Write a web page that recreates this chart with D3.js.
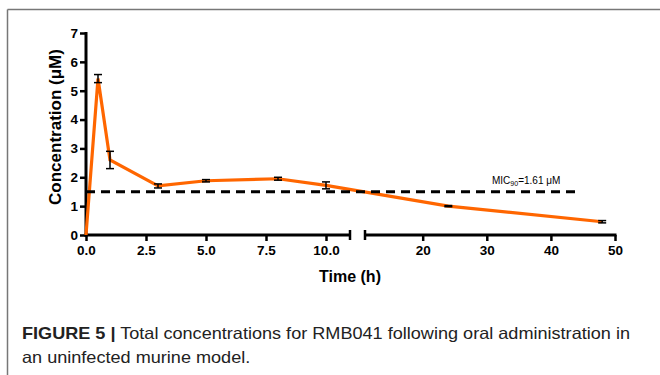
<!DOCTYPE html>
<html><head><meta charset="utf-8">
<script src="https://cdn.jsdelivr.net/npm/d3@7"></script>
<style>
body{margin:0;background:#fff;}
svg{display:block;}
text{font-family:"Liberation Sans",Arial,sans-serif;}
</style></head>
<body>
<script>
// ---- data ----
const times = [0, 0.5, 1, 3, 5, 8, 10, 24, 48];
const conc  = [0, 5.42, 2.6, 1.7, 1.88, 1.95, 1.72, 1.0, 0.46];
const errs  = [0, 0.14, 0.3, 0.07, 0.04, 0.05, 0.12, 0.02, 0.04];
const yTicks = [0,1,2,3,4,5,6,7];
const xTicksA = [0, 2.5, 5, 7.5, 10];
const xTicksB = [20, 30, 40, 50];
const micValue = 1.5;
const micLabel = "1.61 μM";
const yLabel = "Concentration (μM)";
const xLabel = "Time (h)";
const captionBold = "FIGURE 5 |";
const captionLine1 = "Total concentrations for RMB041 following oral administration in";
const captionLine2 = "an uninfected murine model.";

const W = 660, H = 375;
const svg = d3.select("body").append("svg").attr("width", W).attr("height", H);

// frame
svg.append("line").attr("x1",7.5).attr("x2",W).attr("y1",9.5).attr("y2",9.5).attr("stroke","#777").attr("stroke-width",1.5);
svg.append("line").attr("x1",7.5).attr("x2",7.5).attr("y1",9.5).attr("y2",H).attr("stroke","#777").attr("stroke-width",1.5);

const y = d3.scaleLinear().domain([0,7]).range([235,33]);
const xA = d3.scaleLinear().domain([0,11]).range([86,350]);
const xB = d3.scaleLinear().domain([11,50]).range([365,615]);
const xPos = t => t <= 11 ? xA(t) : xB(t);

const axisStyle = g => {
  g.selectAll("path.domain").attr("stroke","#000").attr("stroke-width",3);
  g.selectAll(".tick line").attr("stroke","#000").attr("stroke-width",2.5);
  g.selectAll(".tick text").attr("fill","#000").style("font-family","'Liberation Sans',Arial,sans-serif")
   .style("font-weight","bold").style("font-size","13.5px");
};

// y axis
const gy = svg.append("g").attr("transform","translate(86,0)")
  .call(d3.axisLeft(y).tickValues(yTicks).tickFormat(d3.format("d")).tickSize(6).tickSizeOuter(0).tickPadding(2));
axisStyle(gy);
gy.select("path.domain").attr("d","M0,"+(y(7)-1)+"V"+(y(0)+1.5));

// x axis segment A
const gxA = svg.append("g").attr("transform","translate(0,235)")
  .call(d3.axisBottom(xA).tickValues(xTicksA).tickFormat(d3.format(".1f")).tickSize(6).tickSizeOuter(0).tickPadding(4));
axisStyle(gxA);
gxA.select("path.domain").attr("d","M"+(xA(0)-1.5)+",0H"+xA(11));
gxA.append("line").attr("x1",xA(11)).attr("x2",xA(11)).attr("y1",-5).attr("y2",5).attr("stroke","#000").attr("stroke-width",2.5);

// x axis segment B
const gxB = svg.append("g").attr("transform","translate(0,235)")
  .call(d3.axisBottom(xB).tickValues(xTicksB).tickFormat(d3.format("d")).tickSize(6).tickSizeOuter(0).tickPadding(4));
axisStyle(gxB);
gxB.select("path.domain").attr("d","M"+xB(11)+",0H"+(xB(50)+1.5));
gxB.append("line").attr("x1",xB(11)).attr("x2",xB(11)).attr("y1",-5).attr("y2",5).attr("stroke","#000").attr("stroke-width",2.5);

// axis labels
svg.append("text").attr("transform","translate(61,127) rotate(-90)").attr("text-anchor","middle")
  .attr("font-weight","bold").attr("font-size","17px").attr("fill","#000").text(yLabel);
svg.append("text").attr("x",350).attr("y",282).attr("text-anchor","middle")
  .attr("font-weight","bold").attr("font-size","16px").attr("fill","#000").text(xLabel);

const pts = times.map((t,i)=>({t, v:conc[i], e:errs[i]}));

// data line
svg.append("path").datum(pts)
  .attr("d", d3.line().x(d=>xPos(d.t)).y(d=>y(d.v)))
  .attr("fill","none").attr("stroke","#FF6600").attr("stroke-width",3.2)
  .attr("stroke-linejoin","miter").attr("stroke-miterlimit",6);

// error bars
const eb = svg.append("g").attr("stroke","#000").attr("stroke-width",1.5);
pts.filter(d=>d.e>0).forEach(d=>{
  const cx = xPos(d.t);
  eb.append("line").attr("x1",cx).attr("x2",cx).attr("y1",y(d.v+d.e)).attr("y2",y(d.v-d.e));
  eb.append("line").attr("x1",cx-4).attr("x2",cx+4).attr("y1",y(d.v+d.e)).attr("y2",y(d.v+d.e));
  eb.append("line").attr("x1",cx-4).attr("x2",cx+4).attr("y1",y(d.v-d.e)).attr("y2",y(d.v-d.e));
});

// MIC dashed line
svg.append("line").attr("x1",xA(0)).attr("x2",xB(44.5)).attr("y1",y(micValue)).attr("y2",y(micValue))
  .attr("stroke","#000").attr("stroke-width",3).attr("stroke-dasharray","9,6");

const mic = svg.append("text").attr("x",492).attr("y",184).attr("font-size","10px").attr("fill","#000");
mic.append("tspan").text("MIC");
mic.append("tspan").attr("font-size","7px").attr("dy",2).text("90");
mic.append("tspan").attr("dy",-2).text("=" + micLabel);

// caption
const cap = svg.append("text").attr("x",22).attr("y",339).attr("font-size","16.5px").attr("fill","#222");
cap.append("tspan").attr("font-weight","bold").text(captionBold);
cap.append("tspan").text(" " + captionLine1);
const cap2 = svg.append("text").attr("x",22).attr("y",363).attr("font-size","16.5px").attr("fill","#222").text(captionLine2);
const w1 = cap.node().getComputedTextLength();
const ratio = w1 > 0 ? (630-22)/w1 : 1;
cap.attr("textLength", 630-22).attr("lengthAdjust","spacingAndGlyphs");
const w2 = cap2.node().getComputedTextLength();
if (w2 > 0) cap2.attr("textLength", w2*ratio).attr("lengthAdjust","spacingAndGlyphs");
</script>
</body></html>
